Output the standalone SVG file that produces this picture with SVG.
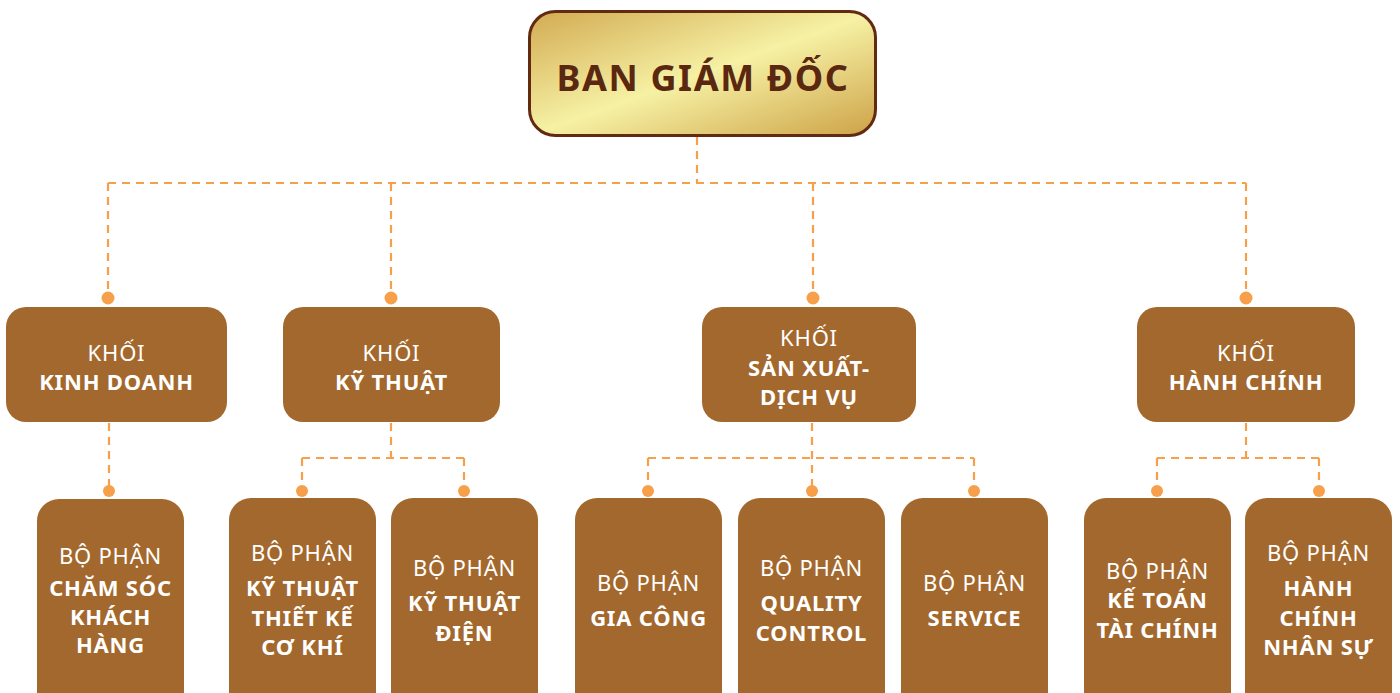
<svg xmlns="http://www.w3.org/2000/svg" width="1400" height="693" viewBox="0 0 1400 693">
<defs>
<linearGradient id="gold" x1="0" y1="0" x2="1" y2="1" gradientUnits="objectBoundingBox">
<stop offset="0" stop-color="#d2aa52"/>
<stop offset="0.5" stop-color="#f6f1a4"/>
<stop offset="1" stop-color="#cda247"/>
</linearGradient>
<style>
.box{fill:#a3682d;}
.ln{fill:none;stroke:#f6a04c;stroke-width:2.2;stroke-dasharray:8 6;}
.dot{fill:#f6a04c;}
.t{font-family:"Noto Sans","Open Sans","DejaVu Sans",sans-serif;font-size:22px;fill:#ffffff;text-anchor:middle;letter-spacing:0.8px;}
.r{font-weight:400;}
.b{font-weight:700;}
.title{font-family:"Noto Sans","Open Sans","DejaVu Sans",sans-serif;font-size:36px;font-weight:700;fill:#5a2810;text-anchor:middle;letter-spacing:1.6px;}
</style>
</defs>
<rect width="1400" height="693" fill="#ffffff"/>
<g id="connectors">
<path class="ln" d="M697 137 V183 M108 183 H1246 M108 183 V298 M391 183 V298 M813 183 V298 M1246 183 V298"/>
<path class="ln" d="M109 423 V491"/>
<path class="ln" d="M391 423 V458 M302 458 H464 M302 458 V491 M464 458 V491"/>
<path class="ln" d="M812 423 V491 M648 458 H974 M648 458 V491 M974 458 V491"/>
<path class="ln" d="M1246 423 V458 M1157 458 H1319 M1157 458 V491 M1319 458 V491"/>
<circle class="dot" cx="108" cy="298" r="6.5"/>
<circle class="dot" cx="391" cy="298" r="6.5"/>
<circle class="dot" cx="813" cy="298" r="6.5"/>
<circle class="dot" cx="1246" cy="298" r="6.5"/>
<circle class="dot" cx="109" cy="491" r="6"/>
<circle class="dot" cx="302" cy="491" r="6"/>
<circle class="dot" cx="464" cy="491" r="6"/>
<circle class="dot" cx="648" cy="491" r="6"/>
<circle class="dot" cx="812" cy="491" r="6"/>
<circle class="dot" cx="974" cy="491" r="6"/>
<circle class="dot" cx="1157" cy="491" r="6"/>
<circle class="dot" cx="1319" cy="491" r="6"/>
</g>
<g id="ban-giam-doc">
<rect x="529.5" y="11.5" width="346" height="124" rx="26" fill="url(#gold)" stroke="#632a12" stroke-width="3"/>
<text class="title" x="703" y="91">BAN GIÁM ĐỐC</text>
</g>
<g id="khoi-kinh-doanh">
<rect class="box" x="6" y="307" width="221" height="115" rx="20"/>
<text class="t r" x="116.5" y="361">KHỐI</text>
<text class="t b" x="116.5" y="390">KINH DOANH</text>
</g>
<g id="khoi-ky-thuat">
<rect class="box" x="283" y="307" width="217" height="115" rx="20"/>
<text class="t r" x="391.5" y="361">KHỐI</text>
<text class="t b" x="391.5" y="390">KỸ THUẬT</text>
</g>
<g id="khoi-san-xuat">
<rect class="box" x="702" y="307" width="214" height="115" rx="20"/>
<text class="t r" x="809" y="346">KHỐI</text>
<text class="t b" x="809" y="376">SẢN XUẤT-</text>
<text class="t b" x="809" y="405">DỊCH VỤ</text>
</g>
<g id="khoi-hanh-chinh">
<rect class="box" x="1137" y="307" width="218" height="115" rx="20"/>
<text class="t r" x="1246" y="361">KHỐI</text>
<text class="t b" x="1246" y="390">HÀNH CHÍNH</text>
</g>
<g id="bp-cham-soc">
<rect class="box" x="37" y="499" width="147" height="220" rx="22"/>
<text class="t r" x="110.5" y="564">BỘ PHẬN</text>
<text class="t b" x="110.5" y="596">CHĂM SÓC</text>
<text class="t b" x="110.5" y="625">KHÁCH</text>
<text class="t b" x="110.5" y="653">HÀNG</text>
</g>
<g id="bp-thiet-ke">
<rect class="box" x="229" y="498" width="147" height="220" rx="22"/>
<text class="t r" x="302.5" y="561">BỘ PHẬN</text>
<text class="t b" x="302.5" y="596">KỸ THUẬT</text>
<text class="t b" x="302.5" y="626">THIẾT KẾ</text>
<text class="t b" x="302.5" y="655">CƠ KHÍ</text>
</g>
<g id="bp-dien">
<rect class="box" x="391" y="498" width="147" height="220" rx="22"/>
<text class="t r" x="464.5" y="576">BỘ PHẬN</text>
<text class="t b" x="464.5" y="611">KỸ THUẬT</text>
<text class="t b" x="464.5" y="641">ĐIỆN</text>
</g>
<g id="bp-gia-cong">
<rect class="box" x="575" y="498" width="147" height="220" rx="22"/>
<text class="t r" x="648.5" y="591">BỘ PHẬN</text>
<text class="t b" x="648.5" y="626">GIA CÔNG</text>
</g>
<g id="bp-quality">
<rect class="box" x="738" y="498" width="147" height="220" rx="22"/>
<text class="t r" x="811.5" y="576">BỘ PHẬN</text>
<text class="t b" x="811.5" y="611">QUALITY</text>
<text class="t b" x="811.5" y="641">CONTROL</text>
</g>
<g id="bp-service">
<rect class="box" x="901" y="498" width="147" height="220" rx="22"/>
<text class="t r" x="974.5" y="591">BỘ PHẬN</text>
<text class="t b" x="974.5" y="626">SERVICE</text>
</g>
<g id="bp-ke-toan">
<rect class="box" x="1084" y="498" width="147" height="220" rx="22"/>
<text class="t r" x="1157.5" y="579">BỘ PHẬN</text>
<text class="t b" x="1157.5" y="608">KẾ TOÁN</text>
<text class="t b" x="1157.5" y="638">TÀI CHÍNH</text>
</g>
<g id="bp-hanh-chinh">
<rect class="box" x="1245" y="498" width="147" height="220" rx="22"/>
<text class="t r" x="1318.5" y="561">BỘ PHẬN</text>
<text class="t b" x="1318.5" y="596">HÀNH</text>
<text class="t b" x="1318.5" y="626">CHÍNH</text>
<text class="t b" x="1318.5" y="655">NHÂN SỰ</text>
</g>
</svg>
